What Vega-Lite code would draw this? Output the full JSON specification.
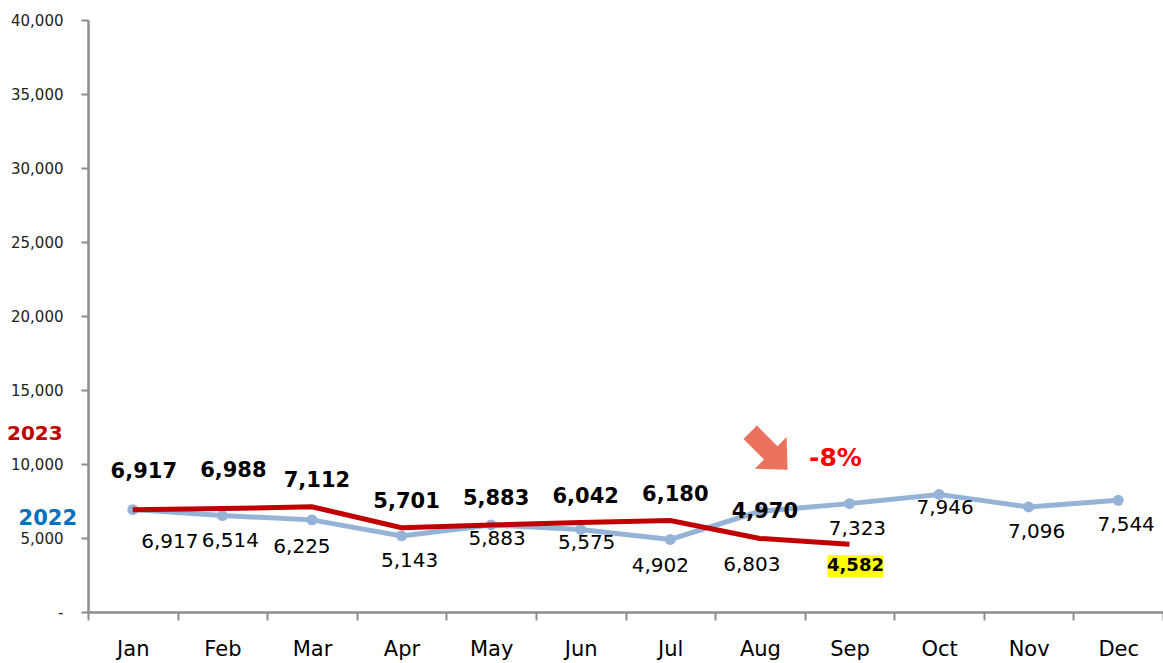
{
  "$schema": "https://vega.github.io/schema/vega-lite/v6.json",
  "width": 1075,
  "height": 592,
  "autosize": {"type": "none"},
  "padding": {"left": 88, "top": 20, "right": 0, "bottom": 51},
  "background": "white",
  "config": {"view": {"stroke": null}, "font": "DejaVu Sans"},
  "datasets": {
    "sales": [
      {"month": "Jan", "year": "2022", "value": 6917},
      {"month": "Feb", "year": "2022", "value": 6514},
      {"month": "Mar", "year": "2022", "value": 6225},
      {"month": "Apr", "year": "2022", "value": 5143},
      {"month": "May", "year": "2022", "value": 5883},
      {"month": "Jun", "year": "2022", "value": 5575},
      {"month": "Jul", "year": "2022", "value": 4902},
      {"month": "Aug", "year": "2022", "value": 6803},
      {"month": "Sep", "year": "2022", "value": 7323},
      {"month": "Oct", "year": "2022", "value": 7946},
      {"month": "Nov", "year": "2022", "value": 7096},
      {"month": "Dec", "year": "2022", "value": 7544},
      {"month": "Jan", "year": "2023", "value": 6917},
      {"month": "Feb", "year": "2023", "value": 6988},
      {"month": "Mar", "year": "2023", "value": 7112},
      {"month": "Apr", "year": "2023", "value": 5701},
      {"month": "May", "year": "2023", "value": 5883},
      {"month": "Jun", "year": "2023", "value": 6042},
      {"month": "Jul", "year": "2023", "value": 6180},
      {"month": "Aug", "year": "2023", "value": 4970},
      {"month": "Sep", "year": "2023", "value": 4582}
    ],
    "notes": [
      {"month": "Jan", "value": 12030, "text": "2023"},
      {"month": "Jan", "value": 6280, "text": "2022"},
      {"month": "Sep", "value": 10405, "text": "-8%"},
      {"month": "Aug", "value": 10878, "text": "arrow"}
    ]
  },
  "encoding": {
    "x": {
      "field": "month",
      "type": "ordinal",
      "sort": ["Jan", "Feb", "Mar", "Apr", "May", "Jun", "Jul", "Aug", "Sep", "Oct", "Nov", "Dec"],
      "scale": {"type": "band", "paddingInner": 0, "paddingOuter": 0},
      "axis": {
        "title": null,
        "labelAngle": 0,
        "labelFontSize": 21,
        "labelColor": "#000000",
        "labelPadding": 18,
        "tickSize": 8,
        "tickBand": "extent",
        "tickColor": "#8c8c8c",
        "tickWidth": 2,
        "domainColor": "#8c8c8c",
        "domainWidth": 2.5
      }
    },
    "y": {
      "field": "value",
      "type": "quantitative",
      "scale": {"domain": [0, 40000], "nice": false},
      "axis": {
        "title": null,
        "grid": false,
        "values": [0, 5000, 10000, 15000, 20000, 25000, 30000, 35000, 40000],
        "labelExpr": "datum.value === 0 ? '-' : format(datum.value, ',')",
        "labelFontSize": 15,
        "labelColor": "#222222",
        "labelPadding": 18,
        "tickSize": 7,
        "tickColor": "#8c8c8c",
        "tickWidth": 2,
        "domainColor": "#8c8c8c",
        "domainWidth": 2.5
      }
    }
  },
  "layer": [
    {
      "mark": {"type": "rule", "color": "#d9d9d9", "strokeWidth": 2},
      "encoding": {"y": {"datum": 40000}, "x": null}
    },
    {
      "data": {"name": "sales"},
      "transform": [{"filter": "datum.year === '2022'"}],
      "mark": {"type": "line", "color": "#95B3D7", "strokeWidth": 5, "point": {"filled": true, "size": 120, "color": "#95B3D7"}}
    },
    {
      "data": {"name": "sales"},
      "transform": [{"filter": "datum.year === '2023'"}],
      "mark": {"type": "line", "color": "#C00000", "strokeWidth": 5}
    },
    {
      "data": {"name": "sales"},
      "transform": [{"filter": "datum.year === '2023' && datum.month === 'Sep'"}],
      "mark": {"type": "point", "filled": true, "opacity": 1, "color": "#FFFF00", "size": 784, "shape": "M-1.57,0.79L2.43,0.79L2.43,2.36L-1.57,2.36Z"}
    },
    {
      "data": {"name": "sales"},
      "transform": [{"filter": "datum.year === '2023' && indexof(['Jan','Feb'], datum.month) >= 0"}],
      "mark": {"type": "text", "fontSize": 21, "fontWeight": "bold", "color": "#000000", "dy": -38, "dx": 11},
      "encoding": {"text": {"field": "value", "type": "quantitative", "format": ","}}
    },
    {
      "data": {"name": "sales"},
      "transform": [{"filter": "datum.year === '2023' && indexof(['Mar','Apr','May','Jun','Jul','Aug'], datum.month) >= 0"}],
      "mark": {"type": "text", "fontSize": 21, "fontWeight": "bold", "color": "#000000", "dy": -26, "dx": 5},
      "encoding": {"text": {"field": "value", "type": "quantitative", "format": ","}}
    },
    {
      "data": {"name": "sales"},
      "transform": [{"filter": "datum.year === '2023' && datum.month === 'Sep'"}],
      "mark": {"type": "text", "fontSize": 18, "fontWeight": "bold", "color": "#000000", "dy": 22, "dx": 6},
      "encoding": {"text": {"field": "value", "type": "quantitative", "format": ","}}
    },
    {
      "data": {"name": "sales"},
      "transform": [{"filter": "datum.year === '2022' && indexof(['Feb','Apr','Sep','Nov','Dec'], datum.month) >= 0"}],
      "mark": {"type": "text", "fontSize": 20, "color": "#000000", "dy": 25, "dx": 8},
      "encoding": {"text": {"field": "value", "type": "quantitative", "format": ","}}
    },
    {
      "data": {"name": "sales"},
      "transform": [{"filter": "datum.year === '2022' && indexof(['Mar','Jul'], datum.month) >= 0"}],
      "mark": {"type": "text", "fontSize": 20, "color": "#000000", "dy": 27, "dx": -10},
      "encoding": {"text": {"field": "value", "type": "quantitative", "format": ","}}
    },
    {
      "data": {"name": "sales"},
      "transform": [{"filter": "datum.year === '2022' && indexof(['May','Jun','Oct'], datum.month) >= 0"}],
      "mark": {"type": "text", "fontSize": 20, "color": "#000000", "dy": 14, "dx": 6},
      "encoding": {"text": {"field": "value", "type": "quantitative", "format": ","}}
    },
    {
      "data": {"name": "sales"},
      "transform": [{"filter": "datum.year === '2022' && datum.month === 'Jan'"}],
      "mark": {"type": "text", "fontSize": 20, "color": "#000000", "dy": 32, "dx": 37},
      "encoding": {"text": {"field": "value", "type": "quantitative", "format": ","}}
    },
    {
      "data": {"name": "sales"},
      "transform": [{"filter": "datum.year === '2022' && datum.month === 'Aug'"}],
      "mark": {"type": "text", "fontSize": 20, "color": "#000000", "dy": 54, "dx": -8},
      "encoding": {"text": {"field": "value", "type": "quantitative", "format": ","}}
    },
    {
      "data": {"name": "notes"},
      "transform": [{"filter": "datum.text === '2023'"}],
      "mark": {"type": "text", "fontSize": 20, "fontWeight": "bold", "color": "#C00000", "dx": -98},
      "encoding": {"text": {"field": "text"}}
    },
    {
      "data": {"name": "notes"},
      "transform": [{"filter": "datum.text === '2022'"}],
      "mark": {"type": "text", "fontSize": 21, "fontWeight": "bold", "color": "#0070C0", "dx": -85},
      "encoding": {"text": {"field": "text"}}
    },
    {
      "data": {"name": "notes"},
      "transform": [{"filter": "datum.text === '-8%'"}],
      "mark": {"type": "text", "fontSize": 25, "fontWeight": "bold", "color": "#FF0000", "dx": -14},
      "encoding": {"text": {"field": "text"}}
    },
    {
      "data": {"name": "notes"},
      "transform": [{"filter": "datum.text === 'arrow'"}],
      "mark": {"type": "point", "filled": true, "opacity": 1, "color": "#EB735E", "size": 2800, "angle": 45, "xOffset": 9, "shape": "M-1,-0.36L0.1,-0.36L0.1,-0.85L1,0L0.1,0.85L0.1,0.36L-1,0.36Z"}
    }
  ]
}
